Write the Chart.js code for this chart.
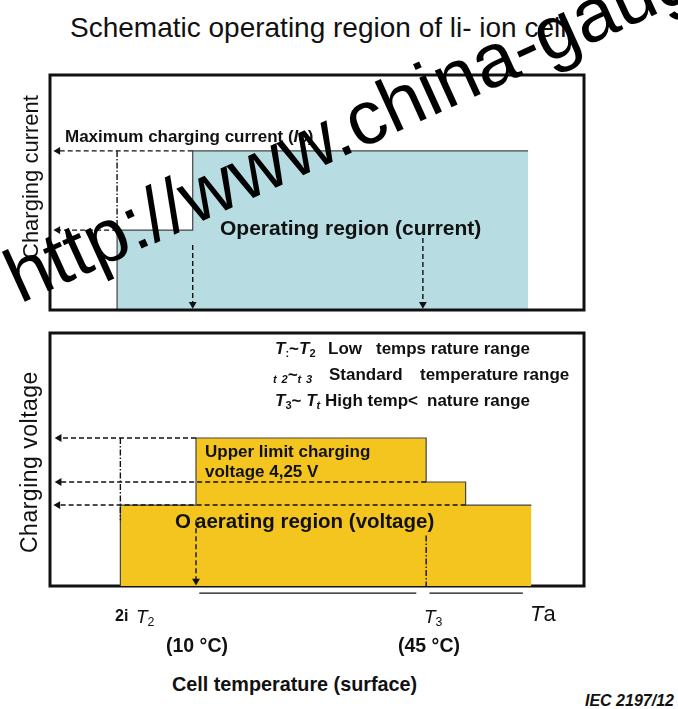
<!DOCTYPE html>
<html>
<head>
<meta charset="utf-8">
<script src="https://cdn.jsdelivr.net/npm/chart.js@4.4.1/dist/chart.umd.min.js"></script>
<style>
  body { margin: 0; background: #fff; width: 678px; height: 709px; overflow: hidden; position: relative;
         font-family: "Liberation Sans", Arial, sans-serif; color: #111; }
  canvas { position: absolute; left: 0; }
  .t { position: absolute; white-space: nowrap; line-height: 1; }
  .b { font-weight: bold; }
  .rot { transform-origin: 0 0; transform: rotate(-90deg); }
  sub { font-size: 65%; vertical-align: -0.25em; }
  #wm { position: absolute; left: 20px; top: 240px; font-size: 76px; line-height: 1; white-space: nowrap;
        transform-origin: 0 64px; transform: rotate(-24.5deg); color: #000; }
</style>
</head>
<body>
<canvas id="currentChart" width="678" height="260" style="top:60px"></canvas>
<canvas id="voltageChart" width="678" height="290" style="top:320px"></canvas>

<div class="t" style="left:70px;top:14px;font-size:28px">Schematic operating region of li- ion cell</div>

<!-- upper panel texts -->
<div class="t rot" style="left:20px;top:259px;font-size:22px">Charging current</div>
<div class="t b" style="left:65px;top:128px;font-size:17px">Maximum charging current (<i>I</i>c)</div>
<div class="t b" style="left:220px;top:217px;font-size:21px">Operating region (current)</div>

<!-- lower panel texts -->
<div class="t rot" style="left:18px;top:553px;font-size:23px;letter-spacing:0.5px">Charging voltage</div>
<div class="t b" style="left:275px;top:340px;font-size:17px"><i>T</i><sub>:</sub>~<i>T</i><sub>2</sub></div>
<div class="t b" style="left:328px;top:340px;font-size:17px">Low</div>
<div class="t b" style="left:376px;top:340px;font-size:17px">temps rature range</div>
<div class="t b" style="left:273px;top:366px;font-size:17px"><i><sub>t</sub> <sub>2</sub>~<sub>t</sub> <sub>3</sub></i></div>
<div class="t b" style="left:329px;top:366px;font-size:17px">Standard</div>
<div class="t b" style="left:420px;top:366px;font-size:17px">temperature range</div>
<div class="t b" style="left:275px;top:392px;font-size:17px"><i>T</i><sub>3</sub>~ <i>T<sub>t</sub></i></div>
<div class="t b" style="left:325px;top:392px;font-size:17px">High temp&lt;</div>
<div class="t b" style="left:427px;top:392px;font-size:17px">nature range</div>
<div class="t b" style="left:205px;top:443px;font-size:17px">Upper limit charging</div>
<div class="t b" style="left:205px;top:463px;font-size:17px">voltage 4,25 V</div>
<div class="t b" style="left:175px;top:511px;font-size:20.5px">O&#8201;aerating region (voltage)</div>

<!-- temperature labels -->
<div class="t b" style="left:115px;top:608px;font-size:16px">2i</div>
<div class="t" style="left:136px;top:607px;font-size:19px"><i>T</i><sub>2</sub></div>
<div class="t" style="left:424px;top:607px;font-size:19px"><i>T</i><sub>3</sub></div>
<div class="t" style="left:530px;top:603px;font-size:22px"><i>T</i>a</div>
<div class="t b" style="left:166px;top:636px;font-size:19.5px">(10 °C)</div>
<div class="t b" style="left:398px;top:636px;font-size:19.5px">(45 °C)</div>
<div class="t b" style="left:172px;top:675px;font-size:19.8px">Cell temperature (surface)</div>
<div class="t b" style="left:585px;top:693px;font-size:16px;font-style:italic">IEC 2197/12</div>

<div id="wm">http://www.china-gauges.com</div>

<script>
// x = cell temperature (°C), y = level in % of panel height (schematic)
const tempMin = -12.2;
const tempMax = 69;

// upper panel: operating region (current), stepped outline
const currentTemps  = [-2, -2, 9.5, 60.5, 60.5];
const currentLevels = [0, 34, 67.7, 67.7, 0];

// lower panel: operating region (voltage), stepped outline
const voltageTemps  = [-1.5, -1.5, 10, 45, 51, 61, 61];
const voltageLevels = [0, 32, 58.5, 41.1, 32, 32, 0];

// dashed guides with arrow heads: [fromTemp, fromLevel, toTemp, toLevel]
const currentGuides = [
    [9.5, 67.7, -11, 67.7],
    [-2, 34, -11, 34],
    [9.5, 27.7, 9.5, 2.5],
    [44.5, 30.6, 44.5, 2.5]
];
const currentDashDot = [[-2, 67.7, -2, 34]];

const voltageGuides = [
    [10, 58.5, -10.8, 58.5],
    [45, 41.1, -10.8, 41.1],
    [51, 32, -11, 32],
    [10, 26, 10, 2]
];
const voltageDashDot = [[-1.5, 58.5, -1.5, 26], [45, 20, 45, 0]];
// short rulers under the lower panel
const voltageRulers = [[10.5, -2.8, 43.5, -2.8], [45.5, -2.8, 59.7, -2.8]];

// Frame around each panel
const boxBorder = {
    id: 'boxBorder',
    beforeDatasetsDraw(chart, args, opts) {
        if (opts.under) drawBox(chart);
    },
    afterDatasetsDraw(chart, args, opts) {
        if (!opts.under) drawBox(chart);
    }
};

function drawBox(chart) {
    const a = chart.chartArea;
    const ctx = chart.ctx;
    ctx.save();
    ctx.strokeStyle = '#111';
    ctx.lineWidth = 3;
    ctx.strokeRect(a.left, a.top, a.right - a.left, a.bottom - a.top);
    ctx.restore();
}

function regionSet(temps, levels, color) {
    const last = temps.length - 1;
    return {
        data: temps.map((t, i) => ({ x: t, y: levels[i] })),
        stepped: 'before',
        fill: 'origin',
        backgroundColor: color,
        borderColor: '#444',
        borderWidth: 1.2,
        pointRadius: 0,
        order: 10,
        segment: {
            borderColor: c => c.p1DataIndex === last ? 'rgba(0,0,0,0)' : '#444'
        }
    };
}

function guideSet(g, dash, arrow) {
    const vertical = g[0] === g[2];
    return {
        data: [{ x: g[0], y: g[1] }, { x: g[2], y: g[3] }],
        borderColor: '#111',
        borderWidth: 1.4,
        borderDash: dash,
        fill: false,
        pointRadius: arrow ? [0, 4.5] : 0,
        pointStyle: 'triangle',
        rotation: vertical ? 180 : 270,
        pointBackgroundColor: '#111',
        pointBorderWidth: 0,
        clip: false,
        order: 1
    };
}

function makePanel(id, datasets, padding, under) {
    return new Chart(document.getElementById(id), {
        type: 'line',
        data: { datasets: datasets },
        options: {
            responsive: false,
            animation: false,
            layout: { padding: padding },
            plugins: {
                legend: { display: false },
                tooltip: { enabled: false },
                boxBorder: { under: under }
            },
            scales: {
                x: { type: 'linear', min: tempMin, max: tempMax, display: false },
                y: { min: 0, max: 100, display: false }
            }
        },
        plugins: [boxBorder]
    });
}

const dashed = [5, 3];
const dashDot = [6, 2, 1.5, 2];

makePanel('currentChart', [
    regionSet(currentTemps, currentLevels, '#b7dde3'),
    ...currentGuides.map(g => guideSet(g, dashed, true)),
    ...currentDashDot.map(g => guideSet(g, dashDot, false))
], { left: 50, right: 94, top: 15, bottom: 10 }, false);

makePanel('voltageChart', [
    regionSet(voltageTemps, voltageLevels, '#f4c51f'),
    ...voltageGuides.map(g => guideSet(g, dashed, true)),
    ...voltageDashDot.map(g => guideSet(g, dashDot, false)),
    ...voltageRulers.map(g => guideSet(g, [], false))
], { left: 50, right: 94, top: 13, bottom: 24 }, true);
</script>
</body>
</html>
